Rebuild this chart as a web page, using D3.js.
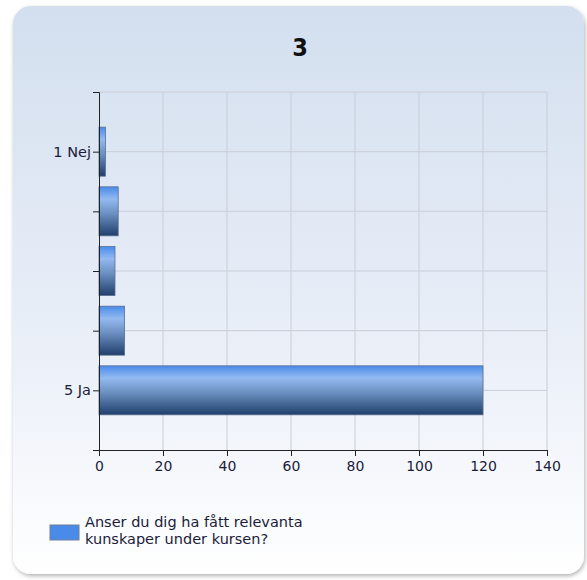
<!DOCTYPE html>
<html>
<head>
<meta charset="utf-8">
<script src="https://cdn.jsdelivr.net/npm/d3@7"></script>
<style>
  body { margin: 0; background: #fff; }
  svg { display: block; font-family: "DejaVu Sans", Verdana, sans-serif; }
</style>
</head>
<body>
<div id="chart"></div>
<script>
// data
const title = '3';
const categories = [1, 2, 3, 4, 5];
const categoryLabels = ['1 Nej', '', '', '', '5 Ja'];
const counts = [2, 6, 5, 8, 120];
const xTicks = [0, 20, 40, 60, 80, 100, 120, 140];
const seriesName = ['Anser du dig ha fått relevanta', 'kunskaper under kursen?'];

const W = 587, H = 580;
const margin = { top: 92, right: 40, bottom: 130, left: 99 };
const width = 547 - margin.left;
const height = 450 - margin.top;
const textColor = '#1b1b3a';

const svg = d3.select('#chart')
  .append('svg')
  .attr('width', W)
  .attr('height', H);

const defs = svg.append('defs');

// panel background gradient
const bg = defs.append('linearGradient')
  .attr('id', 'panelGrad')
  .attr('x1', 0).attr('y1', 0).attr('x2', 0).attr('y2', 1);
bg.append('stop').attr('offset', '0%').attr('stop-color', '#d3dfef');
bg.append('stop').attr('offset', '60%').attr('stop-color', '#eaeff8');
bg.append('stop').attr('offset', '100%').attr('stop-color', '#ffffff');

// bar gradient (glossy blue)
const barGrad = defs.append('linearGradient')
  .attr('id', 'barGrad')
  .attr('x1', 0).attr('y1', 0).attr('x2', 0).attr('y2', 1);
barGrad.append('stop').attr('offset', '0%').attr('stop-color', '#4a8bea');
barGrad.append('stop').attr('offset', '25%').attr('stop-color', '#93b9f0');
barGrad.append('stop').attr('offset', '55%').attr('stop-color', '#6a8fc0');
barGrad.append('stop').attr('offset', '100%').attr('stop-color', '#203f6c');

const shadow = defs.append('filter')
  .attr('id', 'shadow')
  .attr('x', '-5%').attr('y', '-5%').attr('width', '110%').attr('height', '110%');
shadow.append('feDropShadow')
  .attr('dx', 1).attr('dy', 2)
  .attr('stdDeviation', 2)
  .attr('flood-color', '#000')
  .attr('flood-opacity', 0.3);

// panel
svg.append('rect')
  .attr('x', 13)
  .attr('y', 6)
  .attr('width', 571)
  .attr('height', 568)
  .attr('rx', 18)
  .attr('fill', 'url(#panelGrad)')
  .attr('filter', 'url(#shadow)');

// title
svg.append('text')
  .attr('x', 300)
  .attr('y', 56)
  .attr('text-anchor', 'middle')
  .style('font-family', '"DejaVu Sans Condensed", "DejaVu Sans", sans-serif')
  .style('font-size', '25px')
  .style('font-weight', 'bold')
  .style('fill', '#111')
  .text(title);

const g = svg.append('g')
  .attr('transform', `translate(${margin.left},${margin.top})`);

const x = d3.scaleLinear().domain([0, 140]).range([0, width]);
const y = d3.scaleLinear().domain([0, 6]).range([0, height]);

// grid lines
g.append('g')
  .selectAll('line')
  .data(xTicks.slice(1))
  .join('line')
  .attr('x1', d => x(d)).attr('x2', d => x(d))
  .attr('y1', 0).attr('y2', height)
  .attr('stroke', '#c9ced6');

g.append('g')
  .selectAll('line')
  .data([0, ...categories])
  .join('line')
  .attr('x1', 0).attr('x2', width)
  .attr('y1', d => y(d)).attr('y2', d => y(d))
  .attr('stroke', '#c9ced6');

// bars
const barH = 49;
g.append('g')
  .selectAll('rect')
  .data(categories)
  .join('rect')
  .attr('x', 0)
  .attr('y', (d) => y(d) - barH / 2)
  .attr('width', (d, i) => x(counts[i]))
  .attr('height', barH)
  .attr('fill', 'url(#barGrad)')
  .attr('stroke', '#5a6f8e')
  .attr('stroke-width', 0.8);

// y axis
const yAxis = g.append('g')
  .call(d3.axisLeft(y)
    .tickValues([0, ...categories, 6])
    .tickSize(6)
    .tickFormat(d => (d >= 1 && d <= 5 ? categoryLabels[d - 1] : '')));
yAxis.select('.domain').attr('stroke', '#222');
yAxis.selectAll('.tick line').attr('stroke', '#222');
yAxis.selectAll('text')
  .attr('x', -8)
  .style('font-size', '14.5px')
  .style('fill', textColor)
  .style('font-family', '"DejaVu Sans", Verdana, sans-serif');

// x axis
const xAxis = g.append('g')
  .attr('transform', `translate(0,${height})`)
  .call(d3.axisBottom(x).tickValues(xTicks).tickSize(6));
xAxis.select('.domain').attr('stroke', '#222');
xAxis.selectAll('.tick line').attr('stroke', '#222');
xAxis.selectAll('text')
  .attr('y', 11)
  .style('font-size', '14px')
  .style('fill', textColor)
  .style('font-family', '"DejaVu Sans", Verdana, sans-serif');

// legend
const legend = svg.append('g').attr('transform', 'translate(50,525)');
legend.append('rect')
  .attr('width', 29)
  .attr('height', 15)
  .attr('fill', '#4a8bea')
  .attr('stroke', '#6f7f99')
  .attr('stroke-width', 1);
legend.append('text')
  .attr('y', 2)
  .style('font-size', '14.5px')
  .style('fill', textColor)
  .selectAll('tspan')
  .data(seriesName)
  .join('tspan')
  .attr('x', 35)
  .attr('dy', (d, i) => (i === 0 ? 0 : 17))
  .text(d => d);
</script>
</body>
</html>
